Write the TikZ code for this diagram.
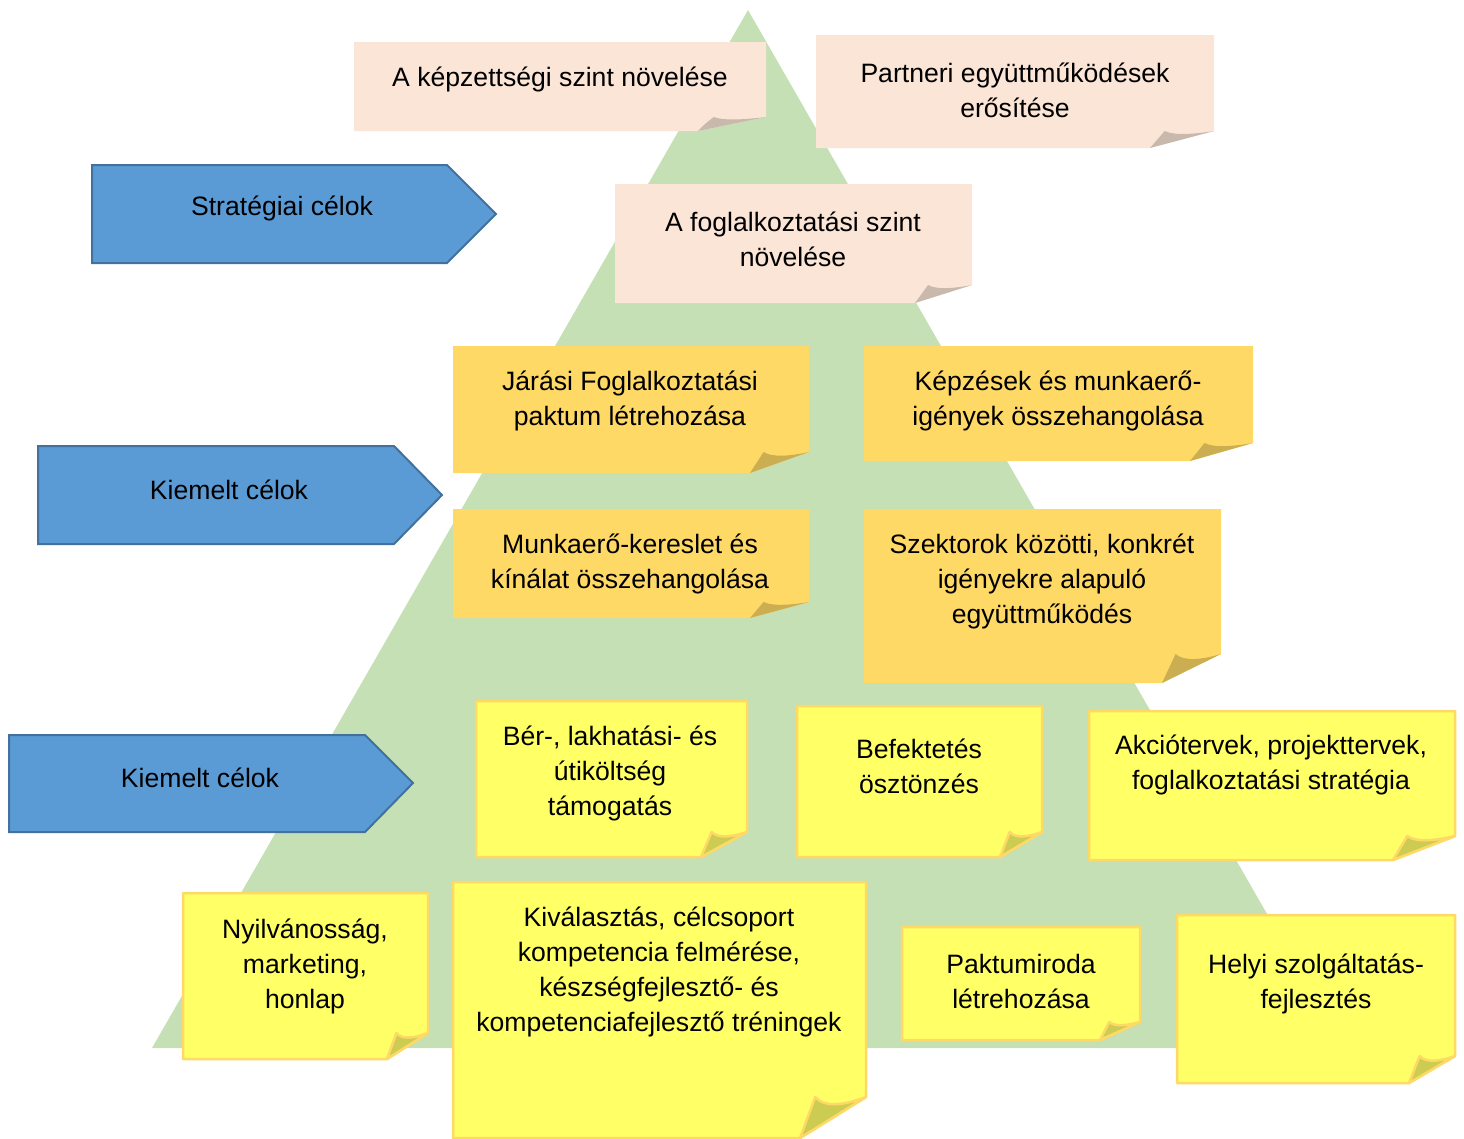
\documentclass[tikz,border=0pt]{standalone}
\usepackage{fontspec}
\setmainfont{Liberation Sans}
\definecolor{trigreen}{HTML}{C5E0B4}
\definecolor{peach}{HTML}{FBE5D6}
\definecolor{peachfoldc}{HTML}{C9B8AC}
\definecolor{gold}{HTML}{FFD966}
\definecolor{goldfoldc}{HTML}{CCAE52}
\definecolor{yel}{HTML}{FFFF66}
\definecolor{yelborder}{HTML}{FFD966}
\definecolor{yelfoldc}{HTML}{CCCC52}
\definecolor{arrowblue}{HTML}{5B9BD5}
\definecolor{arrowborder}{HTML}{41719C}
\tikzset{
  peachbody/.style={fill=peach},
  peachfold/.style={fill=peachfoldc},
  goldbody/.style={fill=gold},
  goldfold/.style={fill=goldfoldc},
  yelbody/.style={fill=yel,draw=yelborder,line width=2.5pt,line join=round},
  yelfold/.style={fill=yelfoldc,draw=yelborder,line width=2.5pt,line join=round},
  arrowbox/.style={fill=arrowblue,draw=arrowborder,line width=2pt},
  notetext/.style={align=center,inner sep=0pt,yshift=-2pt,font=\fontsize{26.6}{35}\selectfont},
}
% #1 x1, #2 y1, #3 x2, #4 y2, #5 cut width, #6 cut height, #7 kind
\newcommand\stickynote[7]{%
  \path[#7body] (#1,#2) -- (#3,#2) -- (#3,#4-#6) -- (#3-#5,#4) -- (#1,#4) -- cycle;
  \path[#7fold] (#3-#5,#4)
     .. controls (#3-0.9*#5,#4-0.5*#6) .. (#3-0.77*#5,#4-#6)
     .. controls (#3-0.62*#5,#4-0.72*#6) and (#3-0.3*#5,#4-0.82*#6) .. (#3,#4-#6)
     -- cycle;
}
\begin{document}
\begin{tikzpicture}[x=1pt,y=-1pt]
\useasboundingbox (0,0) rectangle (1464,1138);
% pyramid
\fill[trigreen] (748,10) -- (1344,1048) -- (152,1048) -- cycle;

% strategic goals (peach)
\stickynote{354}{42}{766}{131}{68}{14}{peach}
\node[notetext] (p1) at (560,77) {A képzettségi szint növelése};
\stickynote{816}{35}{1214}{148}{64}{17}{peach}
\node[notetext] (p2) at (1015,88.5) {Partneri együttműködések\\erősítése};
\stickynote{615}{184}{972}{303}{57}{18}{peach}
\node[notetext] (p3) at (793,237.5) {A foglalkoztatási szint\\növelése};

% highlighted goals (gold)
\stickynote{453}{346}{809}{473}{59}{21}{gold}
\node[notetext] (o1) at (630,398.5) {Járási Foglalkoztatási\\paktum létrehozása};
\stickynote{864}{346}{1253}{461}{63}{18}{gold}
\node[notetext] (o2) at (1058,398.5) {Képzések és munkaerő-\\igények összehangolása};
\stickynote{453}{509}{809}{618}{59}{16}{gold}
\node[notetext] (o3) at (630,561.5) {Munkaerő-kereslet és\\kínálat összehangolása};
\stickynote{864}{509}{1221}{683}{59}{29}{gold}
\node[notetext] (o4) at (1042,579.5) {Szektorok közötti, konkrét\\igényekre alapuló\\együttműködés};

% yellow notes
\stickynote{476}{701}{747}{857}{46}{25}{yel}
\node[notetext] (y1) at (610,771.5) {Bér-, lakhatási- és\\útiköltség\\támogatás};
\stickynote{797}{706}{1042}{857}{42}{25}{yel}
\node[notetext] (y2) at (919,764.5) {Befektetés\\ösztönzés};
\stickynote{1089}{711}{1455}{860}{62}{24}{yel}
\node[notetext] (y3) at (1271,762.5) {Akciótervek, projekttervek,\\foglalkoztatási stratégia};
\stickynote{183}{893}{428}{1059}{41}{26}{yel}
\node[notetext] (y4) at (305,964) {Nyilvánosság,\\marketing,\\honlap};
\stickynote{453}{882}{866}{1138}{66}{41}{yel}
\node[notetext] (y5) at (659,970) {Kiválasztás, célcsoport\\kompetencia felmérése,\\készségfejlesztő- és\\kompetenciafejlesztő tréningek};
\stickynote{902}{927}{1140}{1040}{40}{18}{yel}
\node[notetext] (y6) at (1021,979.5) {Paktumiroda\\létrehozása};
\stickynote{1177}{915}{1455}{1083}{46}{27}{yel}
\node[notetext] (y7) at (1316,981.5) {Helyi szolgáltatás-\\fejlesztés};

% blue arrows
\draw[arrowbox] (92,165) -- (447,165) -- (496,214) -- (447,263) -- (92,263) -- cycle;
\node[notetext] (a1) at (282,206) {Stratégiai célok};
\draw[arrowbox] (38,446) -- (394,446) -- (442,495) -- (394,544) -- (38,544) -- cycle;
\node[notetext] (a2) at (229,488) {Kiemelt célok};
\draw[arrowbox] (9,735) -- (365,735) -- (413,783) -- (365,832) -- (9,832) -- cycle;
\node[notetext] (a3) at (200,776) {Kiemelt célok};
\end{tikzpicture}
\end{document}
